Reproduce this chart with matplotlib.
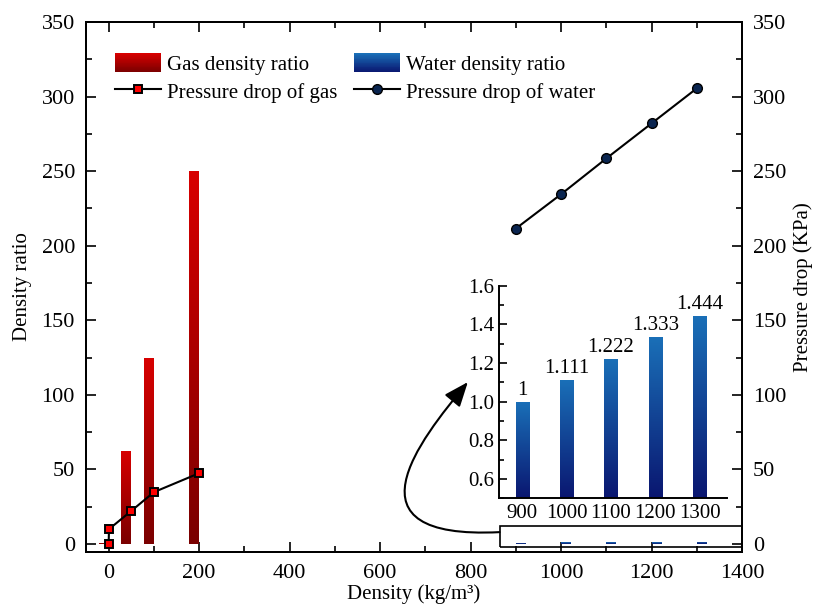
import numpy as np
import matplotlib
matplotlib.use('Agg')
import matplotlib.pyplot as plt
from matplotlib.colors import LinearSegmentedColormap
from matplotlib.patches import Rectangle, FancyArrowPatch
from matplotlib.path import Path
from matplotlib.legend_handler import HandlerBase
from matplotlib.ticker import MultipleLocator

plt.rcParams['font.family'] = ['Liberation Serif', 'DejaVu Serif']
plt.rcParams['font.size'] = 15

# gas: density ratio bars + pressure drop
gas_density = [0.8, 50, 100, 200]
gas_ratio = [1, 62.5, 125, 250]
gas_p_density = [0, 0.8, 50, 100, 200]
gas_pressure = [0, 10, 22.2, 34.8, 47.5]

# water: density ratio bars + pressure drop
water_density = [900, 1000, 1100, 1200, 1300]
water_ratio = [1, 1.111, 1.222, 1.333, 1.444]
water_labels = ['1', '1.111', '1.222', '1.333', '1.444']
water_pressure = [211.5, 234.5, 258.5, 282, 305.5]

red_cmap = LinearSegmentedColormap.from_list('reds', ['#7a0000', '#d80000'])
blue_cmap = LinearSegmentedColormap.from_list('blues', ['#0a1670', '#1a70b8'])


def gradient_bars(ax, bars, cmap):
    grad = np.linspace(0, 1, 256).reshape(-1, 1)
    for b in bars:
        x0, y0 = b.get_x(), b.get_y()
        w, h = b.get_width(), b.get_height()
        im = ax.imshow(grad, cmap=cmap, origin='lower', aspect='auto',
                       extent=[x0, x0 + w, y0, y0 + h], zorder=b.get_zorder())
        im.set_clip_path(b)
        b.set_facecolor('none')


class GradientHandler(HandlerBase):
    def __init__(self, cmap, n=24):
        super().__init__()
        self.cmap = cmap
        self.n = n

    def create_artists(self, legend, orig_handle, xdescent, ydescent,
                       width, height, fontsize, trans):
        arts = []
        for i in range(self.n):
            r = Rectangle((-xdescent, -ydescent + height * i / self.n),
                          width, height / self.n * 1.05,
                          facecolor=self.cmap(i / (self.n - 1)), lw=0,
                          transform=trans)
            arts.append(r)
        return arts


def style_ticks(a, major=7.5, minor=4.5, **kw):
    a.tick_params(which='both', direction='in', width=1.2, **kw)
    a.tick_params(which='major', length=major)
    a.tick_params(which='minor', length=minor)


fig = plt.figure(figsize=(8.13, 6.07), dpi=100)
ax = fig.add_axes([0.1058, 0.0914, 0.8069, 0.8724])
ax2 = ax.twinx()

gbars = ax.bar(gas_density, gas_ratio, width=-22, align='edge', zorder=2, lw=0)
gradient_bars(ax, gbars, red_cmap)
wbars = ax.bar(water_density, water_ratio, width=20, align='edge', zorder=2, lw=0)
gradient_bars(ax, wbars, blue_cmap)

ax.add_patch(Rectangle((864, -2.2), 700, 14.3, fill=False, lw=1.2,
                       edgecolor='black', zorder=3))

ax.set_xlim(-50, 1400)
ax.set_ylim(-5, 350)
ax.xaxis.set_major_locator(MultipleLocator(200))
ax.xaxis.set_minor_locator(MultipleLocator(100))
ax.yaxis.set_major_locator(MultipleLocator(50))
ax.yaxis.set_minor_locator(MultipleLocator(25))
style_ticks(ax, top=True, labelsize=16)
ax.tick_params(axis='x', pad=9)
ax.tick_params(axis='y', pad=8)
ax.set_xlabel('Density (kg/m³)', labelpad=1)
ax.set_ylabel('Density ratio', labelpad=7)

gline, = ax2.plot(gas_p_density, gas_pressure, color='black', lw=1.5,
                  marker='s', ms=6, mfc='#ff0000', mec='black', mew=1.4, zorder=4)
wline, = ax2.plot(water_density, water_pressure, color='black', lw=1.5,
                  marker='o', ms=7, mfc='#0a2550', mec='black', mew=1.0, zorder=4)
ax2.set_ylim(-5, 350)
ax2.yaxis.set_major_locator(MultipleLocator(50))
ax2.yaxis.set_minor_locator(MultipleLocator(25))
style_ticks(ax2, labelsize=16, pad=8)
ax2.set_ylabel('Pressure drop (KPa)', labelpad=5)

for a in (ax, ax2):
    for s in a.spines.values():
        s.set_linewidth(1.4)

leg = ax2.legend([gbars, gline, wbars, wline],
                 ['Gas density ratio', 'Pressure drop of gas',
                  'Water density ratio', 'Pressure drop of water'],
                 ncol=2, frameon=False, loc='upper left',
                 bbox_to_anchor=(0.025, 0.965), handlelength=2.2,
                 handleheight=1.05, handletextpad=0.3, columnspacing=0.8,
                 labelspacing=0.3, borderaxespad=0.2,
                 handler_map={gbars: GradientHandler(red_cmap),
                              wbars: GradientHandler(blue_cmap)})

# zoomed view of the water bars
axi = fig.add_axes([0.614, 0.179, 0.2805, 0.3503])
ibase = 0.5
ibars = axi.bar(water_density, [v - ibase for v in water_ratio], bottom=ibase,
                width=30, lw=0, zorder=2)
gradient_bars(axi, ibars, blue_cmap)
for x, v, t in zip(water_density, water_ratio, water_labels):
    axi.text(x, v + 0.01, t, ha='center', va='bottom', fontsize=15)
axi.set_xlim(848, 1362)
axi.set_ylim(ibase, 1.6)
axi.set_xticks(water_density)
axi.yaxis.set_major_locator(MultipleLocator(0.2))
axi.yaxis.set_minor_locator(MultipleLocator(0.1))
axi.spines['top'].set_visible(False)
axi.spines['right'].set_visible(False)
for s in ('left', 'bottom'):
    axi.spines[s].set_linewidth(1.4)
style_ticks(axi, major=6, minor=3.5, labelsize=15)
axi.tick_params(axis='x', pad=4)
axi.patch.set_alpha(0)

# curved pointer from the boxed bars up to the zoomed view
arrow_path = Path([(864, 8.0), (511, 2.7), (688, 69.7), (794, 108.6)],
                  [Path.MOVETO, Path.CURVE4, Path.CURVE4, Path.CURVE4])
ax.add_patch(FancyArrowPatch(path=arrow_path, transform=ax.transData,
                             arrowstyle='-|>,head_length=0.75,head_width=0.3',
                             mutation_scale=20, color='black', lw=1.5,
                             zorder=5, clip_on=False))

fig.savefig('out.png', dpi=100)
